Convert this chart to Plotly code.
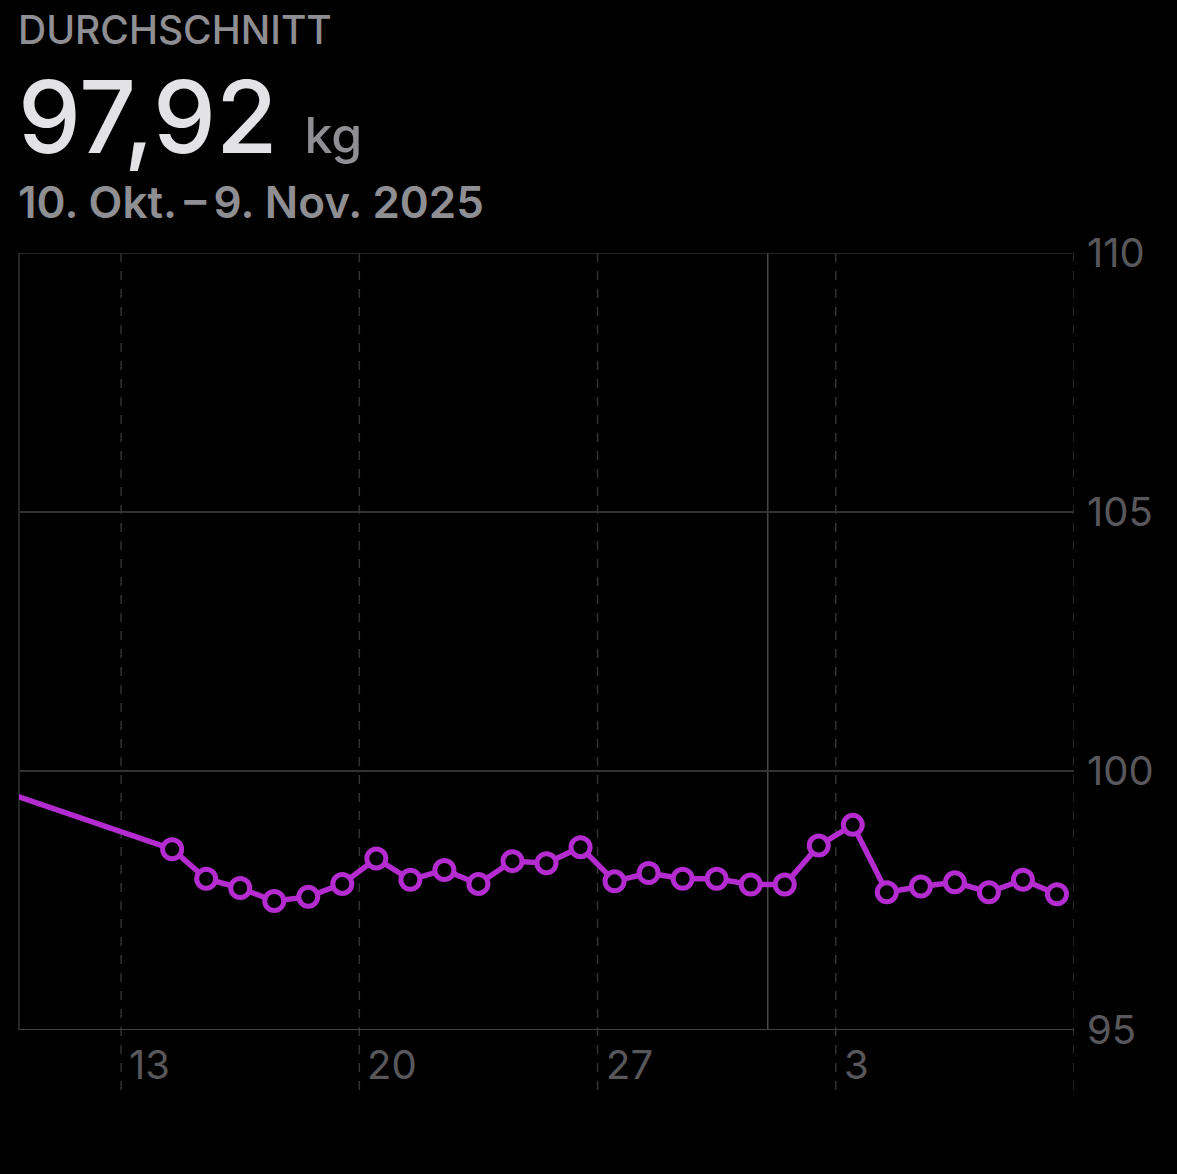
import plotly.graph_objects as go
import pandas as pd

# ---- data ----
dates = ["2025-10-07 12:00",
         "2025-10-14 12:00", "2025-10-15 12:00", "2025-10-16 12:00", "2025-10-17 12:00",
         "2025-10-18 12:00", "2025-10-19 12:00", "2025-10-20 12:00", "2025-10-21 12:00",
         "2025-10-22 12:00", "2025-10-23 12:00", "2025-10-24 12:00", "2025-10-25 12:00",
         "2025-10-26 12:00", "2025-10-27 12:00", "2025-10-28 12:00", "2025-10-29 12:00",
         "2025-10-30 12:00", "2025-10-31 12:00", "2025-11-01 12:00", "2025-11-02 12:00",
         "2025-11-03 12:00", "2025-11-04 12:00", "2025-11-05 12:00", "2025-11-06 12:00",
         "2025-11-07 12:00", "2025-11-08 12:00", "2025-11-09 12:00"]
weights = [100.06,
           98.49, 97.92, 97.74, 97.49, 97.57, 97.82, 98.31, 97.90,
           98.09, 97.82, 98.26, 98.22, 98.53, 97.87, 98.03, 97.92,
           97.92, 97.81, 97.81, 98.56, 98.96, 97.66, 97.77, 97.85,
           97.66, 97.90, 97.62]

week_ticks = ["2025-10-13", "2025-10-20", "2025-10-27", "2025-11-03", "2025-11-10"]
week_labels = ["13", "20", "27", "3", ""]
month_lines = ["2025-11-01"]
y_ticks = [95, 100, 105, 110]
x_range = ["2025-10-10", "2025-11-10"]

header_label = "DURCHSCHNITT"
avg_value = "97,92"
unit = "kg"
period = "10. Okt.\u2009–\u20099. Nov. 2025"

# ---- style ----
PURPLE = "#B42CD0"
GRID = "#323234"
LABEL = "#58585c"
HEAD_GRAY = "#8e8e93"
FONT = "Inter"

W, H = 1177, 1174
L, R, T, B = 19, 1074, 253, 1030


def py(px):
    return (B - px) / (B - T)


fig = go.Figure()
fig.add_trace(go.Scatter(
    x=pd.to_datetime(dates), y=weights, mode="lines+markers",
    line=dict(color=PURPLE, width=5.5),
    marker=dict(symbol="circle", size=19, color="black",
                line=dict(color=PURPLE, width=5)),
    hoverinfo="skip", showlegend=False,
))

shapes = []
for d in week_ticks:
    shapes.append(dict(type="line", xref="x", yref="paper", x0=d, x1=d,
                       y0=py(1090), y1=1, line=dict(color=GRID, width=1.5, dash="dash"),
                       layer="below"))
for d in month_lines:
    shapes.append(dict(type="line", xref="x", yref="paper", x0=d, x1=d,
                       y0=0, y1=1, line=dict(color="#48484b", width=1.5), layer="below"))
# frame: left, top, bottom
shapes.append(dict(type="line", xref="paper", yref="paper", x0=0, x1=0, y0=0, y1=1,
                   line=dict(color=GRID, width=1.5), layer="below"))
shapes.append(dict(type="line", xref="paper", yref="y", x0=0, x1=1, y0=110, y1=110,
                   line=dict(color=GRID, width=1.5), layer="below"))
shapes.append(dict(type="line", xref="paper", yref="y", x0=0, x1=1, y0=95, y1=95,
                   line=dict(color="#444446", width=2), layer="below"))

annotations = []
for d, lab in zip(week_ticks, week_labels):
    if lab:
        annotations.append(dict(x=d, y=py(1064), xref="x", yref="paper", text=lab,
                                showarrow=False, xanchor="left", yanchor="middle", xshift=6,
                                font=dict(family=FONT, size=40, color=LABEL)))

annotations.append(dict(x=0, y=py(29), xref="paper", yref="paper", text=header_label,
                        showarrow=False, xanchor="left", yanchor="middle", xshift=-3,
                        font=dict(family=FONT, size=39, color=HEAD_GRAY, weight=500)))
annotations.append(dict(x=0, y=py(116), xref="paper", yref="paper",
                        text=f"{avg_value} <span style='font-size:50px;color:{HEAD_GRAY}'>{unit}</span>",
                        showarrow=False, xanchor="left", yanchor="middle", xshift=-3,
                        font=dict(family=FONT, size=100, color="#e3e3e6", weight=500)))
annotations.append(dict(x=0, y=py(202), xref="paper", yref="paper", text=period,
                        showarrow=False, xanchor="left", yanchor="middle", xshift=-3,
                        font=dict(family=FONT, size=44, color=HEAD_GRAY, weight=600)))

fig.update_layout(
    width=W, height=H,
    paper_bgcolor="black", plot_bgcolor="black",
    margin=dict(l=L, r=W - R, t=T, b=H - B, pad=0),
    xaxis=dict(type="date", range=x_range, showgrid=False, zeroline=False,
               showticklabels=False, showline=False, ticks=""),
    yaxis=dict(range=[95, 110], tickvals=y_ticks, side="right", showgrid=True,
               gridcolor=GRID, gridwidth=1.5, zeroline=False, showline=False,
               ticks="", ticklabelstandoff=12,
               tickfont=dict(family=FONT, size=40, color=LABEL)),
    shapes=shapes, annotations=annotations,
)

fig.write_html("out.html", config={"displayModeBar": False, "staticPlot": True},
               post_script="document.body.style.margin='0';document.body.style.background='black';")
